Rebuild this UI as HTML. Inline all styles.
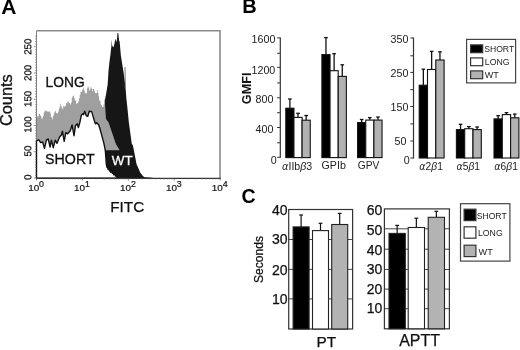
<!DOCTYPE html>
<html><head><meta charset="utf-8"><title>Figure</title>
<style>
html,body{margin:0;padding:0;background:#fff;}
svg{display:block;font-family:"Liberation Sans", sans-serif;}
</style></head>
<body>
<svg width="520" height="350" viewBox="0 0 520 350">
<rect width="520" height="350" fill="#fff"/>
<text x="1.3" y="14.0" font-size="21" text-anchor="start" font-weight="bold" fill="#000" >A</text>
<text x="242.2" y="13.2" font-size="20" text-anchor="start" font-weight="bold" fill="#000" >B</text>
<text x="241.4" y="203.2" font-size="19.6" text-anchor="start" font-weight="bold" fill="#000" >C</text>
<polygon fill="#9f9f9f" points="36.50,178.00 36.50,117.88 37.22,117.88 37.22,116.36 37.94,116.36 37.94,116.45 38.66,116.45 38.66,113.98 39.38,113.98 39.38,114.02 40.10,114.02 40.10,115.39 40.82,115.39 40.82,116.44 41.54,116.44 41.54,119.17 42.26,119.17 42.26,118.02 42.98,118.02 42.98,115.99 43.70,115.99 43.70,112.56 44.42,112.56 44.42,111.14 45.14,111.14 45.14,110.46 45.86,110.46 45.86,110.82 46.58,110.82 46.58,111.53 47.30,111.53 47.30,111.49 48.02,111.49 48.02,111.61 48.74,111.61 48.74,111.79 49.46,111.79 49.46,111.55 50.18,111.55 50.18,113.38 50.90,113.38 50.90,117.13 51.62,117.13 51.62,117.26 52.34,117.26 52.34,119.42 53.06,119.42 53.06,115.84 53.78,115.84 53.78,113.55 54.50,113.55 54.50,111.97 55.22,111.97 55.22,110.97 55.94,110.97 55.94,113.34 56.66,113.34 56.66,113.10 57.38,113.10 57.38,113.56 58.10,113.56 58.10,111.53 58.82,111.53 58.82,108.66 59.54,108.66 59.54,106.75 60.26,106.75 60.26,103.66 60.98,103.66 60.98,106.17 61.70,106.17 61.70,107.98 62.42,107.98 62.42,109.48 63.14,109.48 63.14,106.13 63.86,106.13 63.86,105.98 64.58,105.98 64.58,106.89 65.30,106.89 65.30,105.61 66.02,105.61 66.02,103.28 66.74,103.28 66.74,103.16 67.46,103.16 67.46,102.03 68.18,102.03 68.18,101.57 68.90,101.57 68.90,103.08 69.62,103.08 69.62,103.43 70.34,103.43 70.34,104.69 71.06,104.69 71.06,102.55 71.78,102.55 71.78,97.74 72.50,97.74 72.50,96.37 73.22,96.37 73.22,95.40 73.94,95.40 73.94,97.64 74.66,97.64 74.66,100.01 75.38,100.01 75.38,100.79 76.10,100.79 76.10,104.11 76.82,104.11 76.82,103.17 77.54,103.17 77.54,103.02 78.26,103.02 78.26,101.28 78.98,101.28 78.98,98.56 79.70,98.56 79.70,95.10 80.42,95.10 80.42,91.79 81.14,91.79 81.14,91.88 81.86,91.88 81.86,90.55 82.58,90.55 82.58,89.15 83.30,89.15 83.30,87.49 84.02,87.49 84.02,90.46 84.74,90.46 84.74,92.71 85.46,92.71 85.46,93.52 86.18,93.52 86.18,93.18 86.90,93.18 86.90,88.50 87.62,88.50 87.62,86.83 88.34,86.83 88.34,87.58 89.06,87.58 89.06,90.86 89.78,90.86 89.78,89.35 90.50,89.35 90.50,86.86 91.22,86.86 91.22,88.23 91.94,88.23 91.94,91.30 92.66,91.30 92.66,88.95 93.38,88.95 93.38,88.99 94.10,88.99 94.10,90.85 94.82,90.85 94.82,93.00 95.54,93.00 95.54,93.16 96.26,93.16 96.26,93.02 96.98,93.02 96.98,90.05 97.70,90.05 97.70,92.92 98.42,92.92 98.42,96.22 99.14,96.22 99.14,100.25 99.86,100.25 99.86,101.23 100.58,101.23 100.58,104.23 101.30,104.23 101.30,105.37 102.02,105.37 102.02,106.78 102.74,106.78 102.74,107.12 103.46,107.12 103.46,104.47 104.18,104.47 104.18,99.57 104.90,99.57 104.90,96.30 105.62,96.30 105.62,98.50 106.34,98.50 106.00,104.00 108.30,122.00 115.80,144.00 119.50,150.30 126.00,178.00"/>
<polygon fill="#161616" points="105.30,178.00 105.30,150.30 119.50,150.30 115.80,144.00 108.30,122.00 106.00,119.00 105.00,104.00 105.10,100.00 107.60,85.00 108.60,70.00 109.50,61.50 110.40,55.00 110.80,51.00 111.40,46.00 111.70,39.60 112.20,46.00 113.50,47.30 114.60,43.00 115.30,38.40 116.20,42.00 116.90,40.00 117.50,33.00 118.30,33.00 119.00,40.00 119.70,41.90 120.80,55.00 122.00,62.70 123.50,72.00 125.30,85.00 126.50,100.00 127.00,104.00 128.80,122.00 131.80,144.00 132.80,145.00 134.90,155.60 136.50,164.00 140.20,172.50 142.60,175.70 144.50,177.20 150.00,177.60 153.00,178.00"/>
<line x1="125" y1="67" x2="125.3" y2="88" stroke="#777" stroke-width="1"/>
<polygon fill="#fff" stroke="#111" stroke-width="1.4" stroke-linejoin="round" points="36.50,178.20 36.50,140.80 38.80,139.90 40.70,142.60 42.60,142.00 44.50,148.30 46.40,140.10 48.20,138.90 50.10,147.00 51.40,140.10 53.30,147.70 55.20,140.10 57.00,143.30 59.60,137.00 61.40,135.10 62.50,131.30 64.20,141.40 65.80,132.60 67.70,133.80 70.30,130.70 72.10,125.00 74.00,135.70 75.50,125.70 77.20,123.80 78.40,127.50 79.70,123.10 81.30,115.40 82.40,113.90 83.60,114.60 84.70,111.20 86.30,115.80 87.80,116.20 89.30,111.20 91.70,111.60 92.80,115.40 94.40,120.80 95.50,123.90 96.70,122.70 98.60,124.70 99.40,127.00 101.40,134.00 103.90,143.40 105.30,150.30 105.90,158.00 106.30,164.00 107.00,167.30 107.40,164.80 108.00,169.20 108.60,166.50 109.40,171.00 110.10,168.20 110.90,172.30 111.60,169.80 112.40,173.40 113.20,171.50 113.90,174.80 114.70,173.20 115.40,176.00 116.20,175.00 117.40,178.20"/>
<path d="M36.5,30.8 H220.0 V178.2" fill="none" stroke="#8a8a8a" stroke-width="1.6"/>
<path d="M36.5,30.8 V140" fill="none" stroke="#777" stroke-width="0.9"/>
<path d="M36.5,178.3 H220.6" fill="none" stroke="#333" stroke-width="1.3"/>
<line x1="33.9" y1="178.00" x2="36.5" y2="178.00" stroke="#666" stroke-width="0.7"/>
<line x1="35.2" y1="175.37" x2="36.5" y2="175.37" stroke="#666" stroke-width="0.7"/>
<line x1="35.2" y1="172.75" x2="36.5" y2="172.75" stroke="#666" stroke-width="0.7"/>
<line x1="35.2" y1="170.12" x2="36.5" y2="170.12" stroke="#666" stroke-width="0.7"/>
<line x1="35.2" y1="167.50" x2="36.5" y2="167.50" stroke="#666" stroke-width="0.7"/>
<line x1="35.2" y1="164.87" x2="36.5" y2="164.87" stroke="#666" stroke-width="0.7"/>
<line x1="35.2" y1="162.24" x2="36.5" y2="162.24" stroke="#666" stroke-width="0.7"/>
<line x1="35.2" y1="159.62" x2="36.5" y2="159.62" stroke="#666" stroke-width="0.7"/>
<line x1="35.2" y1="156.99" x2="36.5" y2="156.99" stroke="#666" stroke-width="0.7"/>
<line x1="35.2" y1="154.37" x2="36.5" y2="154.37" stroke="#666" stroke-width="0.7"/>
<line x1="33.9" y1="151.74" x2="36.5" y2="151.74" stroke="#666" stroke-width="0.7"/>
<line x1="35.2" y1="149.11" x2="36.5" y2="149.11" stroke="#666" stroke-width="0.7"/>
<line x1="35.2" y1="146.49" x2="36.5" y2="146.49" stroke="#666" stroke-width="0.7"/>
<line x1="35.2" y1="143.86" x2="36.5" y2="143.86" stroke="#666" stroke-width="0.7"/>
<line x1="35.2" y1="141.24" x2="36.5" y2="141.24" stroke="#666" stroke-width="0.7"/>
<line x1="35.2" y1="138.61" x2="36.5" y2="138.61" stroke="#666" stroke-width="0.7"/>
<line x1="35.2" y1="135.98" x2="36.5" y2="135.98" stroke="#666" stroke-width="0.7"/>
<line x1="35.2" y1="133.36" x2="36.5" y2="133.36" stroke="#666" stroke-width="0.7"/>
<line x1="35.2" y1="130.73" x2="36.5" y2="130.73" stroke="#666" stroke-width="0.7"/>
<line x1="35.2" y1="128.11" x2="36.5" y2="128.11" stroke="#666" stroke-width="0.7"/>
<line x1="33.9" y1="125.48" x2="36.5" y2="125.48" stroke="#666" stroke-width="0.7"/>
<line x1="35.2" y1="122.85" x2="36.5" y2="122.85" stroke="#666" stroke-width="0.7"/>
<line x1="35.2" y1="120.23" x2="36.5" y2="120.23" stroke="#666" stroke-width="0.7"/>
<line x1="35.2" y1="117.60" x2="36.5" y2="117.60" stroke="#666" stroke-width="0.7"/>
<line x1="35.2" y1="114.98" x2="36.5" y2="114.98" stroke="#666" stroke-width="0.7"/>
<line x1="35.2" y1="112.35" x2="36.5" y2="112.35" stroke="#666" stroke-width="0.7"/>
<line x1="35.2" y1="109.72" x2="36.5" y2="109.72" stroke="#666" stroke-width="0.7"/>
<line x1="35.2" y1="107.10" x2="36.5" y2="107.10" stroke="#666" stroke-width="0.7"/>
<line x1="35.2" y1="104.47" x2="36.5" y2="104.47" stroke="#666" stroke-width="0.7"/>
<line x1="35.2" y1="101.85" x2="36.5" y2="101.85" stroke="#666" stroke-width="0.7"/>
<line x1="33.9" y1="99.22" x2="36.5" y2="99.22" stroke="#666" stroke-width="0.7"/>
<line x1="35.2" y1="96.59" x2="36.5" y2="96.59" stroke="#666" stroke-width="0.7"/>
<line x1="35.2" y1="93.97" x2="36.5" y2="93.97" stroke="#666" stroke-width="0.7"/>
<line x1="35.2" y1="91.34" x2="36.5" y2="91.34" stroke="#666" stroke-width="0.7"/>
<line x1="35.2" y1="88.72" x2="36.5" y2="88.72" stroke="#666" stroke-width="0.7"/>
<line x1="35.2" y1="86.09" x2="36.5" y2="86.09" stroke="#666" stroke-width="0.7"/>
<line x1="35.2" y1="83.46" x2="36.5" y2="83.46" stroke="#666" stroke-width="0.7"/>
<line x1="35.2" y1="80.84" x2="36.5" y2="80.84" stroke="#666" stroke-width="0.7"/>
<line x1="35.2" y1="78.21" x2="36.5" y2="78.21" stroke="#666" stroke-width="0.7"/>
<line x1="35.2" y1="75.59" x2="36.5" y2="75.59" stroke="#666" stroke-width="0.7"/>
<line x1="33.9" y1="72.96" x2="36.5" y2="72.96" stroke="#666" stroke-width="0.7"/>
<line x1="35.2" y1="70.33" x2="36.5" y2="70.33" stroke="#666" stroke-width="0.7"/>
<line x1="35.2" y1="67.71" x2="36.5" y2="67.71" stroke="#666" stroke-width="0.7"/>
<line x1="35.2" y1="65.08" x2="36.5" y2="65.08" stroke="#666" stroke-width="0.7"/>
<line x1="35.2" y1="62.46" x2="36.5" y2="62.46" stroke="#666" stroke-width="0.7"/>
<line x1="35.2" y1="59.83" x2="36.5" y2="59.83" stroke="#666" stroke-width="0.7"/>
<line x1="35.2" y1="57.20" x2="36.5" y2="57.20" stroke="#666" stroke-width="0.7"/>
<line x1="35.2" y1="54.58" x2="36.5" y2="54.58" stroke="#666" stroke-width="0.7"/>
<line x1="35.2" y1="51.95" x2="36.5" y2="51.95" stroke="#666" stroke-width="0.7"/>
<line x1="35.2" y1="49.33" x2="36.5" y2="49.33" stroke="#666" stroke-width="0.7"/>
<line x1="33.9" y1="46.70" x2="36.5" y2="46.70" stroke="#666" stroke-width="0.7"/>
<line x1="35.2" y1="44.07" x2="36.5" y2="44.07" stroke="#666" stroke-width="0.7"/>
<line x1="35.2" y1="41.45" x2="36.5" y2="41.45" stroke="#666" stroke-width="0.7"/>
<line x1="35.2" y1="38.82" x2="36.5" y2="38.82" stroke="#666" stroke-width="0.7"/>
<line x1="35.2" y1="36.20" x2="36.5" y2="36.20" stroke="#666" stroke-width="0.7"/>
<line x1="36.50" y1="178.2" x2="36.50" y2="180.39999999999998" stroke="#555" stroke-width="0.8"/>
<line x1="50.32" y1="178.2" x2="50.32" y2="179.7" stroke="#777" stroke-width="0.6"/>
<line x1="58.40" y1="178.2" x2="58.40" y2="179.7" stroke="#777" stroke-width="0.6"/>
<line x1="64.13" y1="178.2" x2="64.13" y2="179.7" stroke="#777" stroke-width="0.6"/>
<line x1="68.58" y1="178.2" x2="68.58" y2="179.7" stroke="#777" stroke-width="0.6"/>
<line x1="72.22" y1="178.2" x2="72.22" y2="179.7" stroke="#777" stroke-width="0.6"/>
<line x1="75.29" y1="178.2" x2="75.29" y2="179.7" stroke="#777" stroke-width="0.6"/>
<line x1="77.95" y1="178.2" x2="77.95" y2="179.7" stroke="#777" stroke-width="0.6"/>
<line x1="80.30" y1="178.2" x2="80.30" y2="179.7" stroke="#777" stroke-width="0.6"/>
<text x="28.2" y="190.7" font-size="9.9" fill="#111" stroke="#111" stroke-width="0.2">10<tspan dy="-3.8" dx="-0.1" font-size="8.8">0</tspan></text>
<line x1="82.40" y1="178.2" x2="82.40" y2="180.39999999999998" stroke="#555" stroke-width="0.8"/>
<line x1="96.22" y1="178.2" x2="96.22" y2="179.7" stroke="#777" stroke-width="0.6"/>
<line x1="104.30" y1="178.2" x2="104.30" y2="179.7" stroke="#777" stroke-width="0.6"/>
<line x1="110.03" y1="178.2" x2="110.03" y2="179.7" stroke="#777" stroke-width="0.6"/>
<line x1="114.48" y1="178.2" x2="114.48" y2="179.7" stroke="#777" stroke-width="0.6"/>
<line x1="118.12" y1="178.2" x2="118.12" y2="179.7" stroke="#777" stroke-width="0.6"/>
<line x1="121.19" y1="178.2" x2="121.19" y2="179.7" stroke="#777" stroke-width="0.6"/>
<line x1="123.85" y1="178.2" x2="123.85" y2="179.7" stroke="#777" stroke-width="0.6"/>
<line x1="126.20" y1="178.2" x2="126.20" y2="179.7" stroke="#777" stroke-width="0.6"/>
<text x="74.1" y="190.7" font-size="9.9" fill="#111" stroke="#111" stroke-width="0.2">10<tspan dy="-3.8" dx="-0.1" font-size="8.8">1</tspan></text>
<line x1="128.30" y1="178.2" x2="128.30" y2="180.39999999999998" stroke="#555" stroke-width="0.8"/>
<line x1="142.12" y1="178.2" x2="142.12" y2="179.7" stroke="#777" stroke-width="0.6"/>
<line x1="150.20" y1="178.2" x2="150.20" y2="179.7" stroke="#777" stroke-width="0.6"/>
<line x1="155.93" y1="178.2" x2="155.93" y2="179.7" stroke="#777" stroke-width="0.6"/>
<line x1="160.38" y1="178.2" x2="160.38" y2="179.7" stroke="#777" stroke-width="0.6"/>
<line x1="164.02" y1="178.2" x2="164.02" y2="179.7" stroke="#777" stroke-width="0.6"/>
<line x1="167.09" y1="178.2" x2="167.09" y2="179.7" stroke="#777" stroke-width="0.6"/>
<line x1="169.75" y1="178.2" x2="169.75" y2="179.7" stroke="#777" stroke-width="0.6"/>
<line x1="172.10" y1="178.2" x2="172.10" y2="179.7" stroke="#777" stroke-width="0.6"/>
<text x="120.0" y="190.7" font-size="9.9" fill="#111" stroke="#111" stroke-width="0.2">10<tspan dy="-3.8" dx="-0.1" font-size="8.8">2</tspan></text>
<line x1="174.20" y1="178.2" x2="174.20" y2="180.39999999999998" stroke="#555" stroke-width="0.8"/>
<line x1="188.02" y1="178.2" x2="188.02" y2="179.7" stroke="#777" stroke-width="0.6"/>
<line x1="196.10" y1="178.2" x2="196.10" y2="179.7" stroke="#777" stroke-width="0.6"/>
<line x1="201.83" y1="178.2" x2="201.83" y2="179.7" stroke="#777" stroke-width="0.6"/>
<line x1="206.28" y1="178.2" x2="206.28" y2="179.7" stroke="#777" stroke-width="0.6"/>
<line x1="209.92" y1="178.2" x2="209.92" y2="179.7" stroke="#777" stroke-width="0.6"/>
<line x1="212.99" y1="178.2" x2="212.99" y2="179.7" stroke="#777" stroke-width="0.6"/>
<line x1="215.65" y1="178.2" x2="215.65" y2="179.7" stroke="#777" stroke-width="0.6"/>
<line x1="218.00" y1="178.2" x2="218.00" y2="179.7" stroke="#777" stroke-width="0.6"/>
<text x="165.9" y="190.7" font-size="9.9" fill="#111" stroke="#111" stroke-width="0.2">10<tspan dy="-3.8" dx="-0.1" font-size="8.8">3</tspan></text>
<line x1="220.10" y1="178.2" x2="220.10" y2="180.39999999999998" stroke="#555" stroke-width="0.8"/>
<text x="211.8" y="190.7" font-size="9.9" fill="#111" stroke="#111" stroke-width="0.2">10<tspan dy="-3.8" dx="-0.1" font-size="8.8">4</tspan></text>
<text transform="translate(31.25,177.3) rotate(-89.95)" font-size="10.0" text-anchor="middle" font-weight="normal" fill="#111" stroke="#111" stroke-width="0.25">0</text>
<text transform="translate(31.25,151.1) rotate(-89.95)" font-size="10.0" text-anchor="middle" font-weight="normal" fill="#111" textLength="10.8" lengthAdjust="spacingAndGlyphs" stroke="#111" stroke-width="0.25">50</text>
<text transform="translate(31.25,124.5) rotate(-89.95)" font-size="10.0" text-anchor="middle" font-weight="normal" fill="#111" textLength="16.3" lengthAdjust="spacingAndGlyphs" stroke="#111" stroke-width="0.25">100</text>
<text transform="translate(31.25,98.9) rotate(-89.95)" font-size="10.0" text-anchor="middle" font-weight="normal" fill="#111" textLength="16.3" lengthAdjust="spacingAndGlyphs" stroke="#111" stroke-width="0.25">150</text>
<text transform="translate(31.25,72.9) rotate(-89.95)" font-size="10.0" text-anchor="middle" font-weight="normal" fill="#111" textLength="16.3" lengthAdjust="spacingAndGlyphs" stroke="#111" stroke-width="0.25">200</text>
<text transform="translate(31.25,46.7) rotate(-89.95)" font-size="10.0" text-anchor="middle" font-weight="normal" fill="#111" textLength="16.3" lengthAdjust="spacingAndGlyphs" stroke="#111" stroke-width="0.25">250</text>
<text transform="translate(11.5,100.2) rotate(-90)" font-size="16" text-anchor="middle" font-weight="normal" fill="#111" textLength="51.8" lengthAdjust="spacingAndGlyphs" stroke="#111" stroke-width="0.3">Counts</text>
<text x="110.2" y="212.1" font-size="15.3" text-anchor="start" font-weight="normal" fill="#111" textLength="34" lengthAdjust="spacingAndGlyphs" stroke="#111" stroke-width="0.25">FITC</text>
<text x="45.6" y="86.6" font-size="13.8" text-anchor="start" font-weight="normal" fill="#111" textLength="39.1" lengthAdjust="spacingAndGlyphs" stroke="#111" stroke-width="0.3">LONG</text>
<text x="45.1" y="164.1" font-size="13.8" text-anchor="start" font-weight="normal" fill="#111" textLength="49.5" lengthAdjust="spacingAndGlyphs" stroke="#111" stroke-width="0.3">SHORT</text>
<text x="111.8" y="164.5" font-size="13.5" text-anchor="start" font-weight="normal" fill="#fff" textLength="20.8" lengthAdjust="spacingAndGlyphs" stroke="#fff" stroke-width="0.3">WT</text>
<line x1="280.3" y1="37.4" x2="280.3" y2="157.8" stroke="#333" stroke-width="1.2"/>
<line x1="277.1" y1="37.90" x2="280.3" y2="37.90" stroke="#333" stroke-width="1"/>
<line x1="277.1" y1="53.30" x2="280.3" y2="53.30" stroke="#333" stroke-width="1"/>
<line x1="277.1" y1="67.35" x2="280.3" y2="67.35" stroke="#333" stroke-width="1"/>
<line x1="277.1" y1="82.90" x2="280.3" y2="82.90" stroke="#333" stroke-width="1"/>
<line x1="277.1" y1="97.75" x2="280.3" y2="97.75" stroke="#333" stroke-width="1"/>
<line x1="277.1" y1="112.70" x2="280.3" y2="112.70" stroke="#333" stroke-width="1"/>
<line x1="277.1" y1="127.50" x2="280.3" y2="127.50" stroke="#333" stroke-width="1"/>
<line x1="277.1" y1="142.75" x2="280.3" y2="142.75" stroke="#333" stroke-width="1"/>
<line x1="277.1" y1="157.30" x2="280.3" y2="157.30" stroke="#333" stroke-width="1"/>
<text x="276.6" y="163.70000000000002" font-size="10.7" text-anchor="end" font-weight="normal" fill="#222" >0</text>
<text x="273.40000000000003" y="132.9" font-size="10.7" text-anchor="end" font-weight="normal" fill="#222" >400</text>
<text x="273.40000000000003" y="103.2" font-size="10.7" text-anchor="end" font-weight="normal" fill="#222" >800</text>
<text x="275.3" y="73.5" font-size="10.7" text-anchor="end" font-weight="normal" fill="#222" >1200</text>
<text x="275.40000000000003" y="43.199999999999996" font-size="10.7" text-anchor="end" font-weight="normal" fill="#222" >1600</text>
<line x1="289.88" y1="108.2" x2="289.88" y2="99" stroke="#111" stroke-width="1.3"/>
<line x1="288.07" y1="99" x2="291.68" y2="99" stroke="#111" stroke-width="1.3"/>
<rect x="285.80" y="108.2" width="8.15" height="49.40" fill="#000" stroke="#111" stroke-width="1.1"/>
<line x1="298.02" y1="117.4" x2="298.02" y2="113.3" stroke="#111" stroke-width="1.3"/>
<line x1="296.22" y1="113.3" x2="299.82" y2="113.3" stroke="#111" stroke-width="1.3"/>
<rect x="293.95" y="117.4" width="8.15" height="40.20" fill="#fff" stroke="#111" stroke-width="1.1"/>
<line x1="306.18" y1="120.2" x2="306.18" y2="115.5" stroke="#111" stroke-width="1.3"/>
<line x1="304.38" y1="115.5" x2="307.98" y2="115.5" stroke="#111" stroke-width="1.3"/>
<rect x="302.10" y="120.2" width="8.15" height="37.40" fill="#b2b2b2" stroke="#111" stroke-width="1.1"/>
<line x1="325.97" y1="54.6" x2="325.97" y2="37.6" stroke="#111" stroke-width="1.3"/>
<line x1="324.17" y1="37.6" x2="327.77" y2="37.6" stroke="#111" stroke-width="1.3"/>
<rect x="321.90" y="54.6" width="8.15" height="103.00" fill="#000" stroke="#111" stroke-width="1.1"/>
<line x1="334.12" y1="70.7" x2="334.12" y2="53.7" stroke="#111" stroke-width="1.3"/>
<line x1="332.32" y1="53.7" x2="335.92" y2="53.7" stroke="#111" stroke-width="1.3"/>
<rect x="330.05" y="70.7" width="8.15" height="86.90" fill="#fff" stroke="#111" stroke-width="1.1"/>
<line x1="342.27" y1="76.4" x2="342.27" y2="64.8" stroke="#111" stroke-width="1.3"/>
<line x1="340.47" y1="64.8" x2="344.07" y2="64.8" stroke="#111" stroke-width="1.3"/>
<rect x="338.20" y="76.4" width="8.15" height="81.20" fill="#b2b2b2" stroke="#111" stroke-width="1.1"/>
<line x1="361.68" y1="122.6" x2="361.68" y2="119.5" stroke="#111" stroke-width="1.3"/>
<line x1="359.88" y1="119.5" x2="363.48" y2="119.5" stroke="#111" stroke-width="1.3"/>
<rect x="357.60" y="122.6" width="8.15" height="35.00" fill="#000" stroke="#111" stroke-width="1.1"/>
<line x1="369.82" y1="120.1" x2="369.82" y2="117.6" stroke="#111" stroke-width="1.3"/>
<line x1="368.02" y1="117.6" x2="371.62" y2="117.6" stroke="#111" stroke-width="1.3"/>
<rect x="365.75" y="120.1" width="8.15" height="37.50" fill="#fff" stroke="#111" stroke-width="1.1"/>
<line x1="377.98" y1="120.1" x2="377.98" y2="117" stroke="#111" stroke-width="1.3"/>
<line x1="376.18" y1="117" x2="379.78" y2="117" stroke="#111" stroke-width="1.3"/>
<rect x="373.90" y="120.1" width="8.15" height="37.50" fill="#b2b2b2" stroke="#111" stroke-width="1.1"/>
<text transform="translate(250.9,88.4) rotate(-90)" font-size="12" text-anchor="middle" font-weight="bold" fill="#111" textLength="31.6" lengthAdjust="spacingAndGlyphs" >GMFI</text>
<text x="282.0" y="169.5" font-size="10.5" fill="#222" textLength="30.2" lengthAdjust="spacingAndGlyphs"><tspan font-style="italic" font-family="DejaVu Sans, sans-serif" font-size="9.8">α</tspan>IIb<tspan font-style="italic">β</tspan>3</text>
<text x="321.6" y="169.3" font-size="10.5" text-anchor="start" font-weight="normal" fill="#222" textLength="24.2" lengthAdjust="spacingAndGlyphs" >GPIb</text>
<text x="357.7" y="169.3" font-size="10.5" text-anchor="start" font-weight="normal" fill="#222" textLength="21.6" lengthAdjust="spacingAndGlyphs" >GPV</text>
<line x1="413.5" y1="37.5" x2="413.5" y2="158.5" stroke="#333" stroke-width="1.2"/>
<line x1="410.3" y1="38.00" x2="413.5" y2="38.00" stroke="#333" stroke-width="1"/>
<line x1="410.3" y1="55.80" x2="413.5" y2="55.80" stroke="#333" stroke-width="1"/>
<line x1="410.3" y1="72.40" x2="413.5" y2="72.40" stroke="#333" stroke-width="1"/>
<line x1="410.3" y1="89.65" x2="413.5" y2="89.65" stroke="#333" stroke-width="1"/>
<line x1="410.3" y1="106.50" x2="413.5" y2="106.50" stroke="#333" stroke-width="1"/>
<line x1="410.3" y1="123.90" x2="413.5" y2="123.90" stroke="#333" stroke-width="1"/>
<line x1="410.3" y1="141.00" x2="413.5" y2="141.00" stroke="#333" stroke-width="1"/>
<line x1="410.3" y1="158.00" x2="413.5" y2="158.00" stroke="#333" stroke-width="1"/>
<text x="409.6" y="164.20000000000002" font-size="10.7" text-anchor="end" font-weight="normal" fill="#222" >0</text>
<text x="406.5" y="145.20000000000002" font-size="10.7" text-anchor="end" font-weight="normal" fill="#222" >50</text>
<text x="408.40000000000003" y="110.9" font-size="10.7" text-anchor="end" font-weight="normal" fill="#222" >150</text>
<text x="408.40000000000003" y="77.0" font-size="10.7" text-anchor="end" font-weight="normal" fill="#222" >250</text>
<text x="408.40000000000003" y="43.0" font-size="10.7" text-anchor="end" font-weight="normal" fill="#222" >350</text>
<line x1="423.35" y1="85.2" x2="423.35" y2="69.2" stroke="#111" stroke-width="1.3"/>
<line x1="421.55" y1="69.2" x2="425.15" y2="69.2" stroke="#111" stroke-width="1.3"/>
<rect x="419.20" y="85.2" width="8.3" height="72.80" fill="#000" stroke="#111" stroke-width="1.1"/>
<line x1="431.65" y1="69.5" x2="431.65" y2="51.4" stroke="#111" stroke-width="1.3"/>
<line x1="429.85" y1="51.4" x2="433.45" y2="51.4" stroke="#111" stroke-width="1.3"/>
<rect x="427.50" y="69.5" width="8.3" height="88.50" fill="#fff" stroke="#111" stroke-width="1.1"/>
<line x1="439.95" y1="60" x2="439.95" y2="51.8" stroke="#111" stroke-width="1.3"/>
<line x1="438.15" y1="51.8" x2="441.75" y2="51.8" stroke="#111" stroke-width="1.3"/>
<rect x="435.80" y="60" width="8.3" height="98.00" fill="#b2b2b2" stroke="#111" stroke-width="1.1"/>
<line x1="460.55" y1="129.6" x2="460.55" y2="124.3" stroke="#111" stroke-width="1.3"/>
<line x1="458.75" y1="124.3" x2="462.35" y2="124.3" stroke="#111" stroke-width="1.3"/>
<rect x="456.40" y="129.6" width="8.3" height="28.40" fill="#000" stroke="#111" stroke-width="1.1"/>
<line x1="468.85" y1="128.7" x2="468.85" y2="126.6" stroke="#111" stroke-width="1.3"/>
<line x1="467.05" y1="126.6" x2="470.65" y2="126.6" stroke="#111" stroke-width="1.3"/>
<rect x="464.70" y="128.7" width="8.3" height="29.30" fill="#fff" stroke="#111" stroke-width="1.1"/>
<line x1="477.15" y1="129.6" x2="477.15" y2="127" stroke="#111" stroke-width="1.3"/>
<line x1="475.35" y1="127" x2="478.95" y2="127" stroke="#111" stroke-width="1.3"/>
<rect x="473.00" y="129.6" width="8.3" height="28.40" fill="#b2b2b2" stroke="#111" stroke-width="1.1"/>
<line x1="498.15" y1="118.9" x2="498.15" y2="115.7" stroke="#111" stroke-width="1.3"/>
<line x1="496.35" y1="115.7" x2="499.95" y2="115.7" stroke="#111" stroke-width="1.3"/>
<rect x="494.00" y="118.9" width="8.3" height="39.10" fill="#000" stroke="#111" stroke-width="1.1"/>
<line x1="506.45" y1="114.6" x2="506.45" y2="112.7" stroke="#111" stroke-width="1.3"/>
<line x1="504.65" y1="112.7" x2="508.25" y2="112.7" stroke="#111" stroke-width="1.3"/>
<rect x="502.30" y="114.6" width="8.3" height="43.40" fill="#fff" stroke="#111" stroke-width="1.1"/>
<line x1="514.75" y1="117.8" x2="514.75" y2="114.1" stroke="#111" stroke-width="1.3"/>
<line x1="512.95" y1="114.1" x2="516.55" y2="114.1" stroke="#111" stroke-width="1.3"/>
<rect x="510.60" y="117.8" width="8.3" height="40.20" fill="#b2b2b2" stroke="#111" stroke-width="1.1"/>
<text x="419.3" y="169.6" font-size="10.5" fill="#222" textLength="23.6" lengthAdjust="spacingAndGlyphs"><tspan font-style="italic" font-family="DejaVu Sans, sans-serif" font-size="9.8">α</tspan>2<tspan font-style="italic">β</tspan>1</text>
<text x="456.4" y="169.6" font-size="10.5" fill="#222" textLength="23.6" lengthAdjust="spacingAndGlyphs"><tspan font-style="italic" font-family="DejaVu Sans, sans-serif" font-size="9.8">α</tspan>5<tspan font-style="italic">β</tspan>1</text>
<text x="494.3" y="169.6" font-size="10.5" fill="#222" textLength="23.6" lengthAdjust="spacingAndGlyphs"><tspan font-style="italic" font-family="DejaVu Sans, sans-serif" font-size="9.8">α</tspan>6<tspan font-style="italic">β</tspan>1</text>
<rect x="466.6" y="39.4" width="49" height="43.5" fill="#fff" stroke="#444" stroke-width="1.2"/>
<rect x="470.6" y="44.9" width="12.1" height="7.8" fill="#000" stroke="#333" stroke-width="1.2"/>
<text x="484.2" y="52.1" font-size="9.6" text-anchor="start" font-weight="normal" fill="#222" textLength="30.0" lengthAdjust="spacingAndGlyphs" >SHORT</text>
<rect x="470.6" y="57.9" width="12.1" height="7.8" fill="#fff" stroke="#333" stroke-width="1.2"/>
<text x="484.8" y="65.1" font-size="9.6" text-anchor="start" font-weight="normal" fill="#222" textLength="24.7" lengthAdjust="spacingAndGlyphs" >LONG</text>
<rect x="470.6" y="70.9" width="12.1" height="7.8" fill="#b2b2b2" stroke="#333" stroke-width="1.2"/>
<text x="484.8" y="78.10000000000001" font-size="9.6" text-anchor="start" font-weight="normal" fill="#222" textLength="14.1" lengthAdjust="spacingAndGlyphs" >WT</text>
<rect x="288.7" y="209.5" width="63.90" height="119.50" fill="#fff" stroke="#333" stroke-width="1.2"/>
<line x1="288.7" y1="239.50" x2="352.6" y2="239.50" stroke="#333" stroke-width="0.9"/>
<line x1="288.7" y1="269.40" x2="352.6" y2="269.40" stroke="#333" stroke-width="0.9"/>
<line x1="288.7" y1="298.90" x2="352.6" y2="298.90" stroke="#333" stroke-width="0.9"/>
<text x="287.6" y="214.65" font-size="14" text-anchor="end" font-weight="normal" fill="#111" stroke="#111" stroke-width="0.25">40</text>
<text x="287.6" y="244.45000000000002" font-size="14" text-anchor="end" font-weight="normal" fill="#111" stroke="#111" stroke-width="0.25">30</text>
<text x="287.6" y="274.55" font-size="14" text-anchor="end" font-weight="normal" fill="#111" stroke="#111" stroke-width="0.25">20</text>
<text x="287.6" y="303.85" font-size="14" text-anchor="end" font-weight="normal" fill="#111" stroke="#111" stroke-width="0.25">10</text>
<line x1="301.10" y1="226.9" x2="301.10" y2="215" stroke="#111" stroke-width="1.2"/>
<line x1="299.20" y1="215" x2="303.00" y2="215" stroke="#111" stroke-width="1.2"/>
<rect x="293.1" y="226.9" width="16" height="102.10" fill="#000" stroke="#222" stroke-width="1.1"/>
<line x1="320.50" y1="230.6" x2="320.50" y2="223.3" stroke="#111" stroke-width="1.2"/>
<line x1="318.60" y1="223.3" x2="322.40" y2="223.3" stroke="#111" stroke-width="1.2"/>
<rect x="312.5" y="230.6" width="16" height="98.40" fill="#fff" stroke="#222" stroke-width="1.1"/>
<line x1="339.70" y1="224.5" x2="339.70" y2="213.4" stroke="#111" stroke-width="1.2"/>
<line x1="337.80" y1="213.4" x2="341.60" y2="213.4" stroke="#111" stroke-width="1.2"/>
<rect x="331.7" y="224.5" width="16" height="104.50" fill="#b3b3b3" stroke="#222" stroke-width="1.1"/>
<text x="316.5" y="347.0" font-size="15.3" text-anchor="start" font-weight="normal" fill="#111" textLength="19.7" lengthAdjust="spacingAndGlyphs" stroke="#111" stroke-width="0.25">PT</text>
<rect x="384.4" y="208.9" width="65.00" height="119.90" fill="#fff" stroke="#333" stroke-width="1.2"/>
<line x1="384.4" y1="228.80" x2="449.4" y2="228.80" stroke="#333" stroke-width="0.9"/>
<line x1="384.4" y1="249.20" x2="449.4" y2="249.20" stroke="#333" stroke-width="0.9"/>
<line x1="384.4" y1="269.50" x2="449.4" y2="269.50" stroke="#333" stroke-width="0.9"/>
<line x1="384.4" y1="289.10" x2="449.4" y2="289.10" stroke="#333" stroke-width="0.9"/>
<line x1="384.4" y1="308.70" x2="449.4" y2="308.70" stroke="#333" stroke-width="0.9"/>
<text x="382.4" y="215.05" font-size="14" text-anchor="end" font-weight="normal" fill="#111" stroke="#111" stroke-width="0.25">60</text>
<text x="382.4" y="235.35000000000002" font-size="14" text-anchor="end" font-weight="normal" fill="#111" stroke="#111" stroke-width="0.25">50</text>
<text x="382.4" y="254.85000000000002" font-size="14" text-anchor="end" font-weight="normal" fill="#111" stroke="#111" stroke-width="0.25">40</text>
<text x="382.4" y="274.35" font-size="14" text-anchor="end" font-weight="normal" fill="#111" stroke="#111" stroke-width="0.25">30</text>
<text x="382.4" y="294.25" font-size="14" text-anchor="end" font-weight="normal" fill="#111" stroke="#111" stroke-width="0.25">20</text>
<text x="382.4" y="313.35" font-size="14" text-anchor="end" font-weight="normal" fill="#111" stroke="#111" stroke-width="0.25">10</text>
<line x1="397.15" y1="233.4" x2="397.15" y2="225.4" stroke="#111" stroke-width="1.2"/>
<line x1="395.25" y1="225.4" x2="399.05" y2="225.4" stroke="#111" stroke-width="1.2"/>
<rect x="389.0" y="233.4" width="16.3" height="95.40" fill="#000" stroke="#222" stroke-width="1.1"/>
<line x1="416.35" y1="227.5" x2="416.35" y2="218.2" stroke="#111" stroke-width="1.2"/>
<line x1="414.45" y1="218.2" x2="418.25" y2="218.2" stroke="#111" stroke-width="1.2"/>
<rect x="408.2" y="227.5" width="16.3" height="101.30" fill="#fff" stroke="#222" stroke-width="1.1"/>
<line x1="436.35" y1="217.3" x2="436.35" y2="211.3" stroke="#111" stroke-width="1.2"/>
<line x1="434.45" y1="211.3" x2="438.25" y2="211.3" stroke="#111" stroke-width="1.2"/>
<rect x="428.2" y="217.3" width="16.3" height="111.50" fill="#b3b3b3" stroke="#222" stroke-width="1.1"/>
<text x="399.2" y="345.7" font-size="15.8" text-anchor="start" font-weight="normal" fill="#111" textLength="40.8" lengthAdjust="spacingAndGlyphs" stroke="#111" stroke-width="0.25">APTT</text>
<text transform="translate(263.0,259.5) rotate(-90)" font-size="12" text-anchor="middle" font-weight="normal" fill="#111" textLength="47" lengthAdjust="spacingAndGlyphs" stroke="#111" stroke-width="0.25">Seconds</text>
<rect x="460.5" y="203.7" width="49.4" height="57.4" fill="#fff" stroke="#444" stroke-width="1.2"/>
<rect x="464.1" y="209.2" width="11.8" height="11.4" fill="#000" stroke="#333" stroke-width="1.2"/>
<text x="476.7" y="219.0" font-size="9.6" text-anchor="start" font-weight="normal" fill="#222" textLength="30.0" lengthAdjust="spacingAndGlyphs" >SHORT</text>
<rect x="464.1" y="226.8" width="11.8" height="11.4" fill="#fff" stroke="#333" stroke-width="1.2"/>
<text x="478.0" y="236.0" font-size="9.6" text-anchor="start" font-weight="normal" fill="#222" textLength="24.7" lengthAdjust="spacingAndGlyphs" >LONG</text>
<rect x="464.1" y="245.2" width="11.8" height="11.4" fill="#b2b2b2" stroke="#333" stroke-width="1.2"/>
<text x="478.6" y="255.3" font-size="9.6" text-anchor="start" font-weight="normal" fill="#222" textLength="14.200000000000001" lengthAdjust="spacingAndGlyphs" >WT</text>
</svg>
</body></html>
